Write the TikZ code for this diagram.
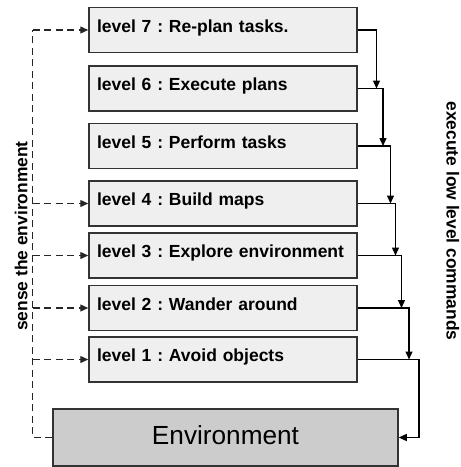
\documentclass[tikz,border=0pt]{standalone}
\usepackage{fontspec}
\setmainfont{Liberation Sans}
\usetikzlibrary{arrows.meta}
\definecolor{boxfill}{HTML}{EFEFEF}
\definecolor{envfill}{HTML}{CCCCCC}
\definecolor{edge}{HTML}{333333}
\frenchspacing
\begin{document}
\begin{tikzpicture}[x=1pt,y=-1pt,
  levelbox/.style={draw=edge, line width=1.5pt, fill=boxfill, rectangle,
    minimum width=268pt, minimum height=45pt, text width=252pt, align=left,
    inner xsep=8pt, inner ysep=0pt, text height=13pt, text depth=8.5pt,
    font=\fontsize{17.5}{20}\selectfont\bfseries\frenchspacing},
  envbox/.style={draw=edge, line width=1.5pt, fill=envfill, rectangle,
    minimum width=345pt, minimum height=57pt, inner sep=0pt,
    font=\fontsize{26.2}{30}\selectfont},
  sidelabel/.style={font=\fontsize{17.4}{20}\selectfont\bfseries, inner sep=0pt},
  cmd/.style={draw=black, line width=1.3pt, -{Triangle[length=8pt,width=7pt]}},
  cmdline/.style={draw=black, line width=1.3pt},
  sense/.style={draw=black!85, line width=1.3pt, dash pattern=on 7pt off 4.5pt, -{Triangle[length=8pt,width=7pt]}},
  senseline/.style={draw=black!85, line width=1.3pt, dash pattern=on 7pt off 4.5pt},
]
\useasboundingbox (0,0) rectangle (461,467);

\node[levelbox] (l7) at (223,30)    {level 7 : Re-plan tasks.};
\node[levelbox] (l6) at (223,88.5)  {level 6 : Execute plans};
\node[levelbox] (l5) at (223,146)   {level 5 : Perform tasks};
\node[levelbox] (l4) at (223,203.5) {level 4 : Build maps};
\node[levelbox] (l3) at (223,255.5) {level 3 : Explore environment};
\node[levelbox] (l2) at (223,308)   {level 2 : Wander around};
\node[levelbox] (l1) at (223,359.5) {level 1 : Avoid objects};

\node[envbox, text height=19pt, text depth=6pt] (env) at (225.5,437.5) {Environment};

% execute low level commands (right side)
\coordinate (c7) at (376.5,30);
\coordinate (c6) at (383,88.5);
\coordinate (c5) at (390.5,146);
\coordinate (c4) at (395.5,203.5);
\coordinate (c3) at (401.5,255.5);
\coordinate (c2) at (409,308);
\coordinate (c1) at (419,359.5);

\draw[cmd] (l7.east) -- (c7) -- (c7 |- l6.east);
\draw[cmd] (l6.east) -- (c6) -- (c6 |- l5.east);
\draw[cmd] (l5.east) -- (c5) -- (c5 |- l4.east);
\draw[cmd] (l4.east) -- (c4) -- (c4 |- l3.east);
\draw[cmd] (l3.east) -- (c3) -- (c3 |- l2.east);
\draw[cmd] (l2.east) -- (c2) -- (c2 |- l1.east);
\draw[cmd] (l1.east) -- (c1) -- (c1 |- env.east) -- (env.east);

% sense the environment (left side)
\coordinate (sb) at (32.5,437.5);
\coordinate (st) at (32.5,30);
\draw[senseline] (env.west) -- (sb) -- (st);
\draw[sense] (st) -- (l7.west);
\draw[sense] (st |- l4.west) -- (l4.west);
\draw[sense] (st |- l3.west) -- (l3.west);
\draw[sense] (st |- l2.west) -- (l2.west);
\draw[sense] (st |- l1.west) -- (l1.west);

\node[sidelabel, rotate=90, anchor=base] (senselbl) at (27.3,236) {sense the environment};
\node[sidelabel, rotate=-90, anchor=base] (execlbl) at (446.7,221) {execute low level commands};
\end{tikzpicture}
\end{document}
